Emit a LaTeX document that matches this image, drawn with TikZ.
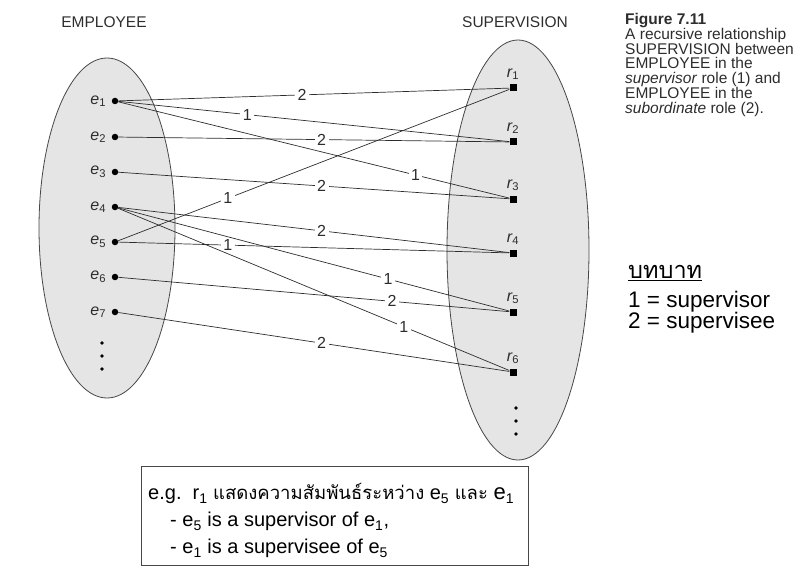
\documentclass[tikz,border=0pt]{standalone}
\usepackage{fontspec}
\setmainfont{Liberation Sans}
\newfontfamily\thaifont[Script=Thai]{Loma}
\usetikzlibrary{positioning, calc}
\definecolor{mydark}{RGB}{45,45,45}
\definecolor{setfill}{RGB}{229,229,229}
\definecolor{setrim}{RGB}{70,70,70}
\tikzset{
  setshape/.style={draw=setrim, fill=setfill, line width=0.8pt},
  setname/.style={text=mydark, font=\fontsize{15.5}{17}\selectfont},
  edot/.style={circle, fill=black, inner sep=0pt, minimum size=6.5pt},
  rbox/.style={rectangle, fill=black, inner sep=0pt, minimum size=7pt},
  elabel/.style={text=mydark, font=\fontsize{16}{18}\selectfont, label distance=2pt},
  rlabel/.style={text=mydark, font=\fontsize{16}{18}\selectfont, label distance=1pt},
  link/.style={draw=mydark, line width=0.7pt},
  role/.style={fill=white, text=mydark, inner sep=2.5pt, font=\fontsize{16}{18}\selectfont}
}
\begin{document}
\begin{tikzpicture}[x=1pt, y=-1pt]
  \useasboundingbox (0,0) rectangle (798,567);

  % Entity sets
  \filldraw [setshape] (107,228) ellipse [x radius=68, y radius=170];
  \filldraw [setshape] (518,250) ellipse [x radius=71, y radius=210];
  \node [setname] (emp) at (104,22) {EMPLOYEE};
  \node [setname] (sup) at (515,22) {SUPERVISION};

  % Employees
  \foreach \i/\y in {1/101, 2/137, 3/172, 4/207, 5/242, 6/277, 7/312}
    \node [edot, label={[elabel]left:{\itshape e}\textsubscript{\i}}] (e\i) at (115,\y) {};
  \foreach \y in {343, 356, 369}
    \fill (102,\y) circle (1.8);

  % Relationship instances
  \foreach \i/\y in {1/88, 2/142, 3/199, 4/253, 5/312, 6/372}
    \node [rbox, label={[rlabel]above:{\itshape r}\textsubscript{\i}}] (r\i) at (513,\y) {};
  \foreach \y in {408, 421, 434}
    \fill (516,\y) circle (1.8);

  % Role links
  \draw [link] (e1) -- node [role, pos=0.47] {2} (r1);
  \draw [link] (e5) -- node [role, pos=0.28] {1} (r1);
  \draw [link] (e1) -- node [role, pos=0.33] {1} (r2);
  \draw [link] (e2) -- node [role, pos=0.52] {2} (r2);
  \draw [link] (e1) -- node [role, pos=0.76] {1} (r3);
  \draw [link] (e3) -- node [role, pos=0.52] {2} (r3);
  \draw [link] (e4) -- node [role, pos=0.52] {2} (r4);
  \draw [link] (e5) -- node [role, pos=0.28] {1} (r4);
  \draw [link] (e4) -- node [role, pos=0.69] {1} (r5);
  \draw [link] (e6) -- node [role, pos=0.70] {2} (r5);
  \draw [link] (e4) -- node [role, pos=0.73] {1} (r6);
  \draw [link] (e7) -- node [role, pos=0.52] {2} (r6);

  % Caption
  \node [anchor=north west, align=left, inner sep=0pt, text=mydark, font=\fontsize{15.5}{14.8}\selectfont] (cap) at (625,13)
    {\textbf{Figure 7.11}\\A recursive relationship\\SUPERVISION between\\EMPLOYEE in the\\\textit{supervisor} role (1) and\\EMPLOYEE in the\\\textit{subordinate} role (2).};

  % Legend
  \node [anchor=north west, align=left, inner sep=0pt, font=\fontsize{22.5}{21}\selectfont] (roles) at (628,265)
    {\underline{\thaifont\fontsize{23.5}{21}\selectfont บทบาท}\\[8pt]1 = supervisor\\2 = supervisee};

  % Example box
  \node [draw=setrim, line width=0.8pt, anchor=north west, minimum width=387, minimum height=99, inner sep=0pt] (note) at (141,466) {};
  \node [anchor=west, align=left, inner sep=0pt, font=\fontsize{20}{27}\selectfont] (notetext) at ($(note.west)+(7,5)$)
    {e.g.\ \ r\textsubscript{1} {\thaifont\fontsize{18.5}{27}\selectfont แสดงความสัมพันธ์ระหว่าง} e\textsubscript{5} {\thaifont\fontsize{18.5}{27}\selectfont และ} {\fontsize{22}{27}\selectfont e}\textsubscript{1}\\
     \hspace*{22pt}- e\textsubscript{5} is a supervisor of e\textsubscript{1},\\
     \hspace*{22pt}- e\textsubscript{1} is a supervisee of e\textsubscript{5}};
\end{tikzpicture}
\end{document}
